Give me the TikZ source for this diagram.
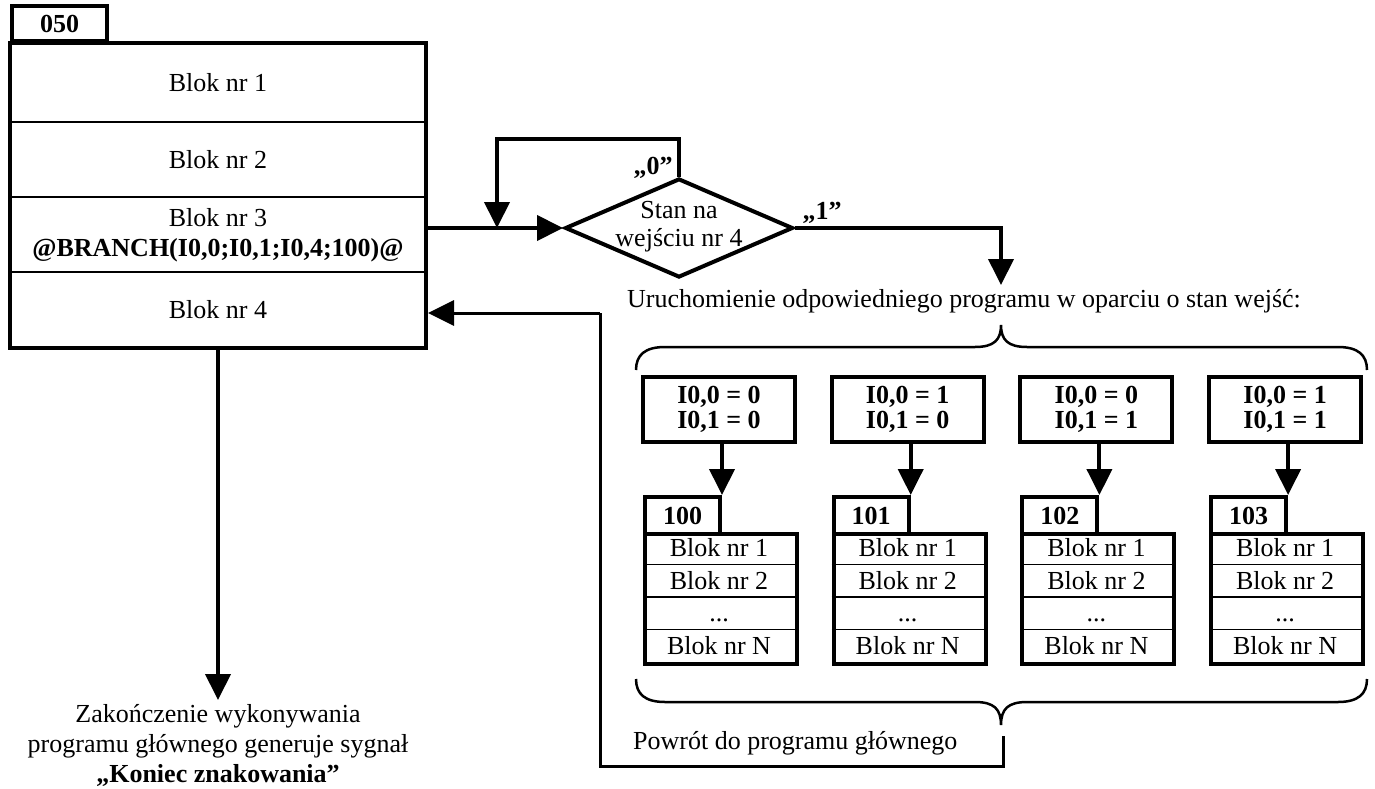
\documentclass[tikz,border=0pt]{standalone}
\usepackage{fontspec}
\setmainfont{Liberation Serif}
\usetikzlibrary{arrows.meta,shapes.geometric}
\begin{document}
\fontsize{26pt}{30pt}\selectfont
\begin{tikzpicture}[x=1pt,y=-1pt,
  thinline/.style={line width=1.5pt},
  arr/.style={line width=4pt,-{Triangle[length=26pt,width=25pt]}},
  box/.style={draw,line width=4pt,rectangle,inner sep=0pt},
  txt/.style={inner sep=0pt,align=center},
  bracepath/.style={line width=2.5pt},
  retline/.style={line width=3pt},
  condfont/.style={font=\fontsize{26pt}{25pt}\selectfont\bfseries},
]
\useasboundingbox (0,0) rectangle (1375,789);

% main program 050
\node[box, minimum width=416pt, minimum height=305pt] (main) at (218,195.5) {};
\node[box, minimum width=95pt, minimum height=35pt, anchor=south west] (t050) at (10,43) {};
\node[txt, font=\bfseries] (l050) at (t050.center) {050};
\draw[thinline] (main.west |- 0,122) -- (main.east |- 0,122);
\draw[thinline] (main.west |- 0,197) -- (main.east |- 0,197);
\draw[thinline] (main.west |- 0,272) -- (main.east |- 0,272);
\node[txt] (mb1) at (218,83) {Blok nr 1};
\node[txt] (mb2) at (218,160) {Blok nr 2};
\node[txt] (mb3) at (218,235) {Blok nr 3\\\textbf{@BRANCH(I0,0;I0,1;I0,4;100)@}};
\node[txt] (mb4) at (218,310) {Blok nr 4};

% decision on input 4
\node[draw, diamond, line width=4pt, minimum width=228pt, minimum height=99pt, inner sep=0pt] (dec) at (679,228) {};
\node[txt, font=\fontsize{26pt}{28pt}\selectfont] (dectxt) at (679,227) {Stan na\\wejściu nr 4};
\coordinate (b3out) at (main.east |- dec.west);
\coordinate (loopin) at (497,228);
\draw[arr] (b3out) -- (dec.west);
\draw[arr] (dec.north) -- ++(0,-38) -| (loopin);
\node[txt, font=\bfseries] (lab0) at (653,168) {„0”};
\node[txt, font=\bfseries] (lab1) at (822,213) {„1”};
\coordinate (runtip) at (1001,285);
\draw[arr] (dec.east) -| (runtip);
\node[anchor=base west, inner sep=0pt] (runtxt) at (627,307) {Uruchomienie odpowiedniego programu w oparciu o stan wejść:};

% braces around the four programs
\draw[bracepath] (636,370) .. controls (636,355) and (645,347) .. (665,347) -- (975,347)
  .. controls (994,347) and (1001,340) .. (1001,325)
  .. controls (1001,340) and (1008,347) .. (1027,347) -- (1338,347)
  .. controls (1358,347) and (1367,355) .. (1367,370);
\draw[bracepath] (636,679) .. controls (636,694) and (645,702) .. (665,702) -- (975,702)
  .. controls (994,702) and (1001,709) .. (1001,725)
  .. controls (1001,709) and (1008,702) .. (1027,702) -- (1338,702)
  .. controls (1358,702) and (1367,694) .. (1367,679);

% programs 100..103
\foreach \i/\a/\b in {0/0/0,1/1/0,2/0/1,3/1/1} {
  \pgfmathsetmacro\L{643+188.7*\i}
  \node[box, condfont, align=center, minimum width=152pt, minimum height=65pt] (cond\i) at ({\L+76},409.5) {I0,0 = \a\\I0,1 = \b};
  \node[box, minimum width=75pt, minimum height=37pt, anchor=north west] (tab\i) at (\L,495) {};
  \node[txt, font=\bfseries] (tl\i) at (tab\i.center) {10\i};
  \node[box, minimum width=152pt, minimum height=130pt, anchor=north west] (prog\i) at (\L,532) {};
  \draw[thinline] (prog\i.west |- 0,564.5) -- (prog\i.east |- 0,564.5);
  \draw[thinline] (prog\i.west |- 0,597) -- (prog\i.east |- 0,597);
  \draw[thinline] (prog\i.west |- 0,629.5) -- (prog\i.east |- 0,629.5);
  \node[txt] (p\i a) at ({\L+76},548) {Blok nr 1};
  \node[txt] (p\i b) at ({\L+76},580.5) {Blok nr 2};
  \node[txt] (p\i c) at ({\L+76},620) {...};
  \node[txt] (p\i d) at ({\L+76},645.5) {Blok nr N};
  \draw[arr] (cond\i.south -| tab\i.north east) -- (tab\i.north east);
}

% return to main program
\node[anchor=west, inner sep=0pt] (rettxt) at (633,743) {Powrót do programu głównego};
\coordinate (retstart) at (1003,736);
\coordinate (retcorner) at (600,766);
\coordinate (retin) at (main.east |- 0,313);
\draw[retline] (retstart) -- (retstart |- retcorner) -- (retcorner) -- (retcorner |- retin) -- (600,313);
\draw[arr, line width=3pt] (600,313) -- (retin);

% end of main program
\coordinate (endtip) at (218,700);
\draw[arr] (main.south) -- (endtip);
\node[txt] (endtxt) at (218,745) {Zakończenie wykonywania\\programu głównego generuje sygnał\\\textbf{„Koniec znakowania”}};
\end{tikzpicture}
\end{document}
